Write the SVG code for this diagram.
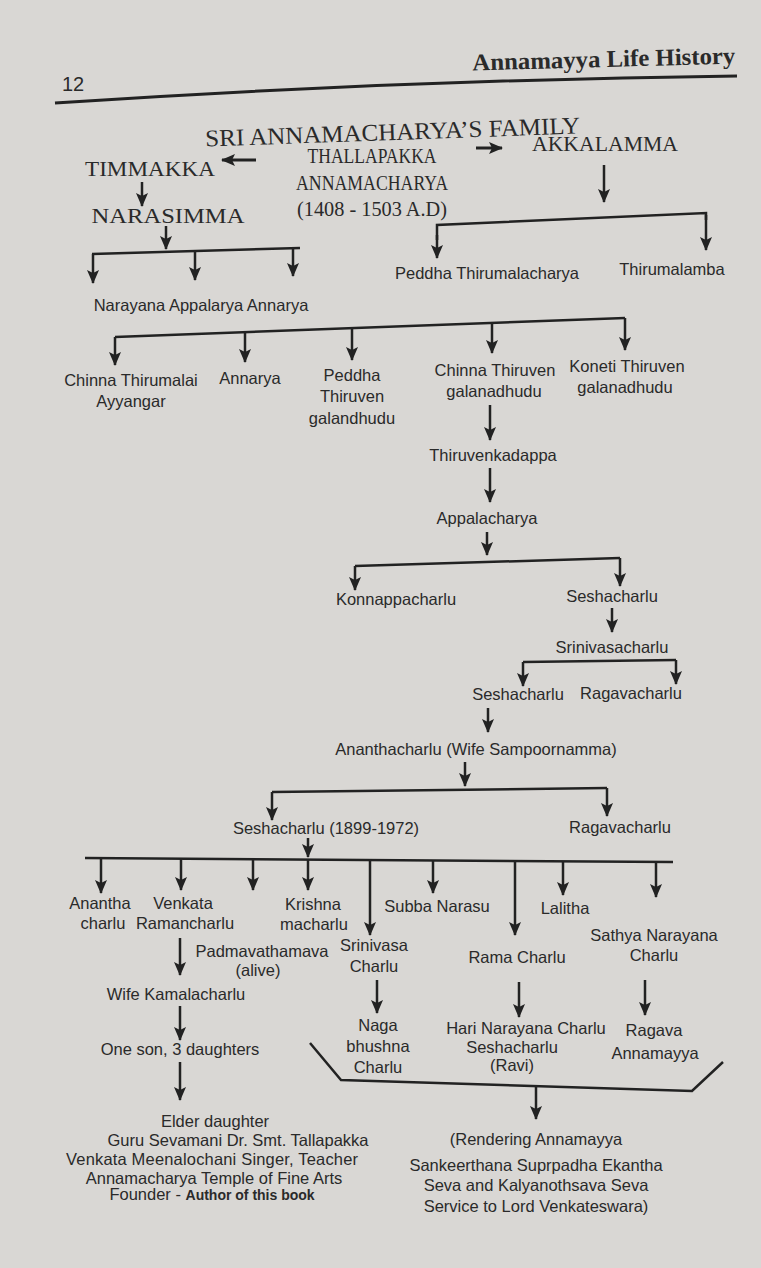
<svg xmlns="http://www.w3.org/2000/svg" width="761" height="1268" viewBox="0 0 761 1268">
<defs>
<marker id="ah" markerWidth="14" markerHeight="12" refX="13" refY="6" orient="auto" markerUnits="userSpaceOnUse" viewBox="0 0 14 12"><path d="M0,0 L14,6 L0,12 L3,6 Z" fill="#222"/></marker>
</defs>
<style>
text{fill:#2a2a2a;font-family:"Liberation Sans",Arial,sans-serif;font-size:16.5px;text-anchor:middle}
.s{font-family:"Liberation Serif","Times New Roman",serif;font-size:18px}
.l{stroke:#222;stroke-width:2.5;fill:none}
.a{stroke:#222;stroke-width:2.5;fill:none;marker-end:url(#ah)}
.h{stroke:#222;stroke-width:3;fill:none;marker-end:url(#ah)}
</style>
<rect width="761" height="1268" fill="#d9d7d4"/>
<g id="header">
<text x="62" y="91" style="text-anchor:start;font-size:20px">12</text>
<text x="604" y="67" class="s" style="font-weight:bold;font-size:24px" transform="rotate(-1.5 604 67)" textLength="263" lengthAdjust="spacingAndGlyphs">Annamayya Life History</text>
<path d="M55,103 Q400,80 737,76" stroke="#222" stroke-width="3" fill="none"/>
</g>
<g id="title"><text x="393" y="140" class="s" style="font-size:24px" textLength="375" lengthAdjust="spacingAndGlyphs" transform="rotate(-2 393 140)">SRI ANNAMACHARYA’S FAMILY</text></g>
<g id="connectors">
<line class="h" x1="256" y1="160" x2="222" y2="160"/>
<line class="h" x1="476" y1="148" x2="502" y2="148"/>
<line class="a" x1="142" y1="182" x2="142" y2="206"/>
<line class="a" x1="166" y1="226" x2="166" y2="249"/>
<path class="l" d="M92,254 L300,248"/>
<line class="a" x1="93" y1="254" x2="93" y2="283"/>
<line class="a" x1="195" y1="251" x2="195" y2="280"/>
<line class="a" x1="293" y1="248" x2="293" y2="276"/>
<line class="a" x1="604" y1="165" x2="604" y2="202"/>
<path class="l" d="M437,240 L437,225 L706,213 L706,220"/>
<line class="a" x1="437" y1="235" x2="437" y2="258"/>
<line class="a" x1="706" y1="215" x2="706" y2="250"/>
<path class="l" d="M115,337 L625,318"/>
<line class="a" x1="115" y1="337" x2="115" y2="365"/>
<line class="a" x1="245" y1="332" x2="245" y2="362"/>
<line class="a" x1="352" y1="328" x2="352" y2="360"/>
<line class="a" x1="492" y1="323" x2="492" y2="353"/>
<line class="a" x1="625" y1="318" x2="625" y2="350"/>
<line class="a" x1="490" y1="405" x2="490" y2="440"/>
<line class="a" x1="490" y1="468" x2="490" y2="502"/>
<line class="a" x1="487" y1="532" x2="487" y2="555"/>
<path class="l" d="M355,566 L620,558"/>
<line class="a" x1="355" y1="566" x2="355" y2="590"/>
<line class="a" x1="620" y1="558" x2="620" y2="586"/>
<line class="a" x1="612" y1="608" x2="612" y2="632"/>
<path class="l" d="M523,662 L676,660"/>
<line class="a" x1="523" y1="662" x2="523" y2="686"/>
<line class="a" x1="676" y1="660" x2="676" y2="684"/>
<line class="a" x1="488" y1="708" x2="488" y2="732"/>
<line class="a" x1="465" y1="762" x2="465" y2="786"/>
<path class="l" d="M272,792 L607,788"/>
<line class="a" x1="272" y1="792" x2="272" y2="820"/>
<line class="a" x1="607" y1="788" x2="607" y2="816"/>
<line class="a" x1="308" y1="838" x2="308" y2="857"/>
<path class="l" d="M85,858 L673,862"/>
<line class="a" x1="101" y1="858" x2="101" y2="893"/>
<line class="a" x1="181" y1="858" x2="181" y2="890"/>
<line class="a" x1="253" y1="859" x2="253" y2="890"/>
<line class="a" x1="308" y1="859" x2="308" y2="890"/>
<line class="a" x1="370" y1="859" x2="370" y2="935"/>
<line class="a" x1="433" y1="860" x2="433" y2="893"/>
<line class="a" x1="515" y1="860" x2="515" y2="935"/>
<line class="a" x1="563" y1="861" x2="563" y2="895"/>
<line class="a" x1="656" y1="861" x2="656" y2="897"/>
<line class="a" x1="180" y1="938" x2="180" y2="975"/>
<line class="a" x1="180" y1="1006" x2="180" y2="1040"/>
<line class="a" x1="180" y1="1062" x2="180" y2="1100"/>
<line class="a" x1="377" y1="980" x2="377" y2="1013"/>
<line class="a" x1="519" y1="982" x2="519" y2="1017"/>
<line class="a" x1="645" y1="980" x2="645" y2="1015"/>
<path class="l" d="M310,1043 L341,1080 L692,1091 L723,1062"/>
<line class="a" x1="536" y1="1087" x2="536" y2="1119"/>
</g>
<g id="thallapakka"><text class="s" x="372" y="163" style="font-size:20px" textLength="129" lengthAdjust="spacingAndGlyphs">THALLAPAKKA</text><text class="s" x="372" y="190" style="font-size:20px" textLength="152" lengthAdjust="spacingAndGlyphs">ANNAMACHARYA</text><text class="s" x="372" y="216" style="font-size:20px" textLength="150" lengthAdjust="spacingAndGlyphs">(1408 - 1503 A.D)</text></g>
<g id="timmakka"><text class="s" x="150" y="176" style="font-size:22px" textLength="130" lengthAdjust="spacingAndGlyphs">TIMMAKKA</text></g>
<g id="akkalamma"><text class="s" x="605" y="151" style="font-size:22px" textLength="146" lengthAdjust="spacingAndGlyphs">AKKALAMMA</text></g>
<g id="narasimma"><text class="s" x="168" y="223" style="font-size:22px" textLength="153" lengthAdjust="spacingAndGlyphs">NARASIMMA</text></g>
<g id="gen2a"><text x="201" y="311">Narayana  Appalarya  Annarya</text></g>
<g id="peddha-thirumalacharya"><text x="487" y="279">Peddha Thirumalacharya</text></g>
<g id="thirumalamba"><text x="672" y="275">Thirumalamba</text></g>
<g id="chinna-thirumalai"><text x="131" y="386">Chinna Thirumalai</text><text x="131" y="407">Ayyangar</text></g>
<g id="annarya2"><text x="250" y="384">Annarya</text></g>
<g id="peddha-thiruven"><text x="352" y="381">Peddha</text><text x="352" y="402">Thiruven</text><text x="352" y="424">galandhudu</text></g>
<g id="chinna-thiruven"><text x="495" y="376">Chinna Thiruven</text><text x="494" y="397">galanadhudu</text></g>
<g id="koneti"><text x="627" y="372">Koneti Thiruven</text><text x="625" y="393">galanadhudu</text></g>
<g id="thiruvenkadappa"><text x="493" y="461">Thiruvenkadappa</text></g>
<g id="appalacharya"><text x="487" y="524">Appalacharya</text></g>
<g id="konnappacharlu"><text x="396" y="605">Konnappacharlu</text></g>
<g id="seshacharlu1"><text x="612" y="602">Seshacharlu</text></g>
<g id="srinivasacharlu"><text x="612" y="653">Srinivasacharlu</text></g>
<g id="seshacharlu2"><text x="518" y="700">Seshacharlu</text></g>
<g id="ragavacharlu1"><text x="631" y="699">Ragavacharlu</text></g>
<g id="ananthacharlu"><text x="476" y="755">Ananthacharlu (Wife Sampoornamma)</text></g>
<g id="seshacharlu3"><text x="326" y="834">Seshacharlu (1899-1972)</text></g>
<g id="ragavacharlu2"><text x="620" y="833">Ragavacharlu</text></g>
<g id="anantha"><text x="100" y="909">Anantha</text><text x="103" y="929">charlu</text></g>
<g id="venkata"><text x="183" y="909">Venkata</text><text x="185" y="929">Ramancharlu</text></g>
<g id="krishna"><text x="313" y="910">Krishna</text><text x="314" y="930">macharlu</text></g>
<g id="subba"><text x="437" y="912">Subba Narasu</text></g>
<g id="lalitha"><text x="565" y="914">Lalitha</text></g>
<g id="sathya"><text x="654" y="941">Sathya Narayana</text><text x="654" y="961">Charlu</text></g>
<g id="padmavathamava"><text x="262" y="957">Padmavathamava</text><text x="258" y="976">(alive)</text></g>
<g id="srinivasa"><text x="374" y="951">Srinivasa</text><text x="374" y="972">Charlu</text></g>
<g id="rama"><text x="517" y="963">Rama Charlu</text></g>
<g id="kamalacharlu"><text x="176" y="1000">Wife Kamalacharlu</text></g>
<g id="oneson"><text x="180" y="1055">One son, 3 daughters</text></g>
<g id="naga"><text x="378" y="1031">Naga</text><text x="378" y="1052">bhushna</text><text x="378" y="1073">Charlu</text></g>
<g id="hari"><text x="526" y="1034">Hari Narayana Charlu</text><text x="512" y="1053">Seshacharlu</text><text x="512" y="1071">(Ravi)</text></g>
<g id="ragava"><text x="654" y="1036">Ragava</text><text x="655" y="1059">Annamayya</text></g>
<g id="elder"><text x="215" y="1127">Elder daughter</text><text x="238" y="1146">Guru Sevamani Dr. Smt. Tallapakka</text><text x="212" y="1165" textLength="292">Venkata Meenalochani Singer, Teacher</text><text x="214" y="1184">Annamacharya Temple of Fine Arts</text><text x="212" y="1200">Founder - <tspan style="font-weight:bold;font-size:14px">Author of this book</tspan></text></g>
<g id="rendering"><text x="536" y="1145">(Rendering Annamayya</text><text x="536" y="1171">Sankeerthana Suprpadha Ekantha</text><text x="536" y="1191">Seva and Kalyanothsava Seva</text><text x="536" y="1212">Service to Lord Venkateswara)</text></g>
</svg>
